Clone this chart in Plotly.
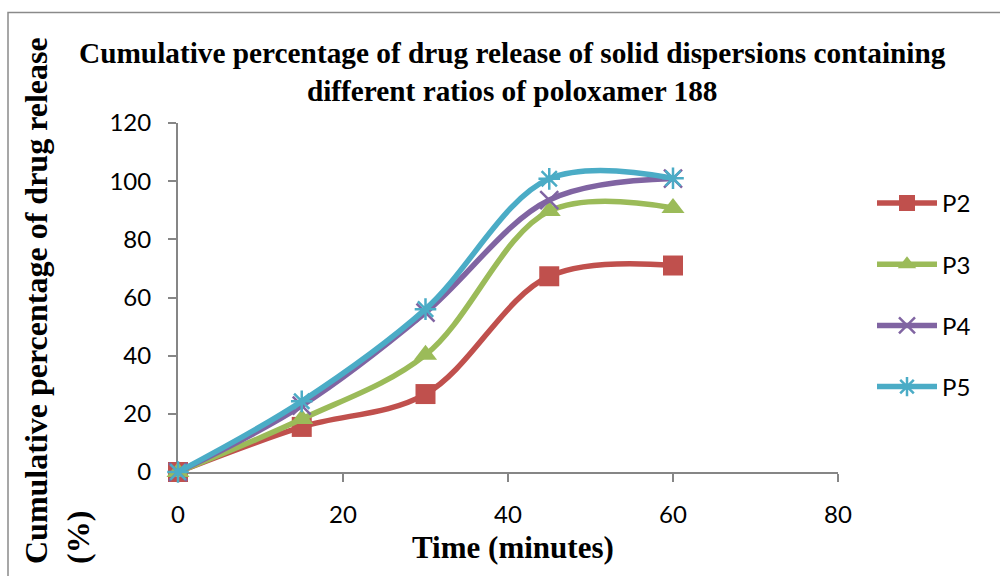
import plotly.graph_objects as go

# Dissolution time points (minutes)
time_min = [0, 15, 30, 45, 60]

# Cumulative drug release (%) for each poloxamer 188 ratio
p2 = [0, 15.5, 26.8, 67.3, 71.0]
p3 = [0, 18.2, 40.3, 89.7, 90.8]
p4 = [0, 22.8, 54.8, 93.5, 100.9]
p5 = [0, 24.3, 56.0, 100.8, 101.0]

series_names = ["P2", "P3", "P4", "P5"]
series_values = [p2, p3, p4, p5]
colors = ["#C0504D", "#9BBB59", "#8064A2", "#4BACC6"]
symbols = ["square", "triangle-up", "x-thin", "asterisk"]
marker_sizes = [20, 20, 18, 18]

x_ticks = [0, 20, 40, 60, 80]
y_ticks = [0, 20, 40, 60, 80, 100, 120]

serif = "Liberation Serif"
sans = "Lato"

# plot area in pixels
L, R, T, B = 178, 162, 123, 104
W, H = 1000, 576
PW, PH = W - L - R, H - T - B


def px_x(px):
    return (px - L) / PW


def px_y(py):
    return (H - B - py) / PH


fig = go.Figure()
for name, vals, col, sym, ms in zip(series_names, series_values, colors, symbols, marker_sizes):
    line_only = sym in ("x-thin", "asterisk")
    fig.add_trace(go.Scatter(
        x=time_min, y=vals, name=name, legendgroup=name,
        mode="lines+markers", cliponaxis=False,
        line=dict(color=col, width=5.5, shape="spline", smoothing=1),
        marker=dict(symbol=sym, size=ms, color=col,
                    line=dict(color=col, width=2.5 if line_only else 0)),
    ))

axis_line = "#868686"
fig.update_xaxes(range=[0, 80], tickvals=x_ticks, showgrid=False, zeroline=False,
                 showline=True, linecolor=axis_line, linewidth=2,
                 ticks="outside", ticklen=8, tickwidth=2, tickcolor=axis_line,
                 ticklabelstandoff=12, layer="below traces",
                 tickfont=dict(family=sans, size=24, color="black"))
fig.update_yaxes(range=[0, 120], tickvals=y_ticks, showgrid=False, zeroline=False,
                 showline=True, linecolor=axis_line, linewidth=2,
                 ticks="outside", ticklen=8, tickwidth=2, tickcolor=axis_line,
                 ticklabelstandoff=12, layer="below traces",
                 tickfont=dict(family=sans, size=24, color="black"))

fig.update_layout(
    width=W, height=H,
    margin=dict(l=L, r=R, t=T, b=B),
    paper_bgcolor="white", plot_bgcolor="white",
    showlegend=True,
    legend=dict(xref="container", yref="container", x=0.872, y=0.488,
                xanchor="left", yanchor="middle",
                font=dict(family=sans, size=24, color="black"),
                tracegroupgap=27, itemwidth=60, bgcolor="rgba(0,0,0,0)"),
    annotations=[
        dict(text="<b>Cumulative percentage of drug release of solid dispersions containing<br>different ratios of poloxamer 188</b>",
             xref="paper", yref="paper", x=px_x(512), y=px_y(72),
             xanchor="center", yanchor="middle", showarrow=False, align="center",
             font=dict(family=serif, size=29.3, color="black")),
        dict(text="<b>Time (minutes)</b>",
             xref="paper", yref="paper", x=px_x(513), y=px_y(547),
             xanchor="center", yanchor="middle", showarrow=False,
             font=dict(family=serif, size=31, color="black")),
        dict(text="<b>Cumulative percentage of drug release<br>(%)</b>",
             xref="paper", yref="paper", x=px_x(57), y=px_y(301),
             xanchor="center", yanchor="middle", showarrow=False, align="left",
             textangle=-90,
             font=dict(family=serif, size=32, color="black")),
    ],
    shapes=[
        dict(type="rect", xref="paper", yref="paper",
             x0=px_x(8), x1=px_x(1040), y0=px_y(620), y1=px_y(12.5),
             line=dict(color="#8a8a8a", width=1.5), fillcolor="rgba(0,0,0,0)",
             layer="below"),
    ],
)

fig.write_html("out.html")
